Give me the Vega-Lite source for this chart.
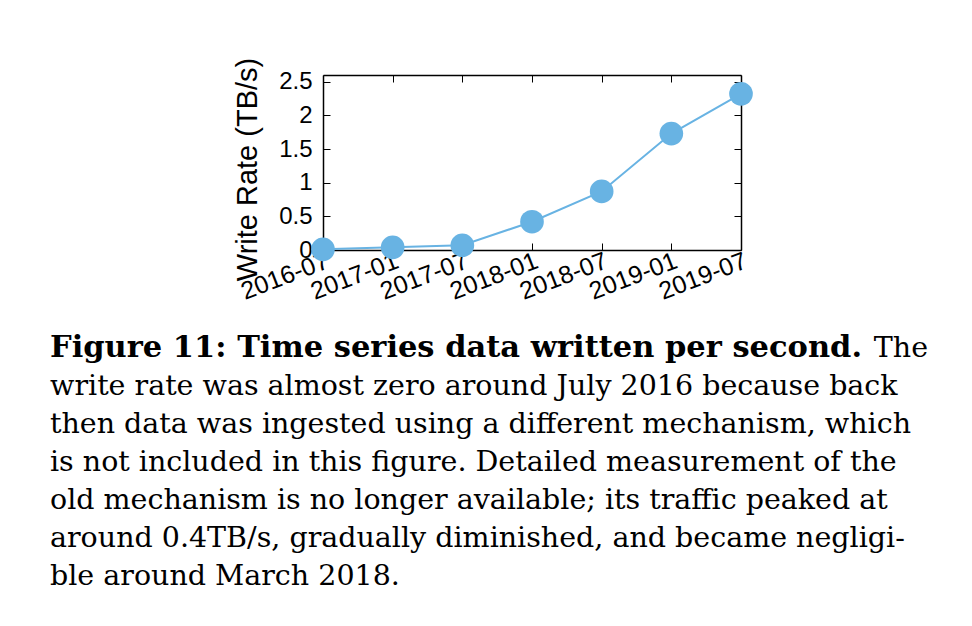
{
  "$schema": "https://vega.github.io/schema/vega-lite/v6.json",
  "background": "white",
  "padding": {"top": 57, "left": 50, "right": 20, "bottom": 20},
  "width": 418,
  "height": 175,
  "config": {
    "view": {"stroke": null},
    "axis": {
      "domainColor": "black",
      "domainWidth": 1.5,
      "tickColor": "black",
      "tickWidth": 1,
      "tickSize": -7,
      "labelFont": "Liberation Sans",
      "labelFontSize": 24,
      "labelColor": "black",
      "titleFont": "Liberation Sans",
      "titleFontSize": 29,
      "titleFontWeight": "normal",
      "titleColor": "black",
      "grid": false,
      "zindex": 1
    }
  },
  "layer": [
    {
      "data": {
        "values": [
          {"month": "2016-07", "rate": 0.01},
          {"month": "2017-01", "rate": 0.04},
          {"month": "2017-07", "rate": 0.07},
          {"month": "2018-01", "rate": 0.42},
          {"month": "2018-07", "rate": 0.87},
          {"month": "2019-01", "rate": 1.73},
          {"month": "2019-07", "rate": 2.32}
        ]
      },
      "layer": [
        {
          "mark": {"type": "line", "color": "#68b3e3", "strokeWidth": 2},
          "encoding": {
            "x": {"field": "month", "type": "ordinal", "sort": null, "scale": {"type": "point", "padding": 0},
                  "axis": {"orient": "bottom", "title": null, "labelAngle": -21, "labelAlign": "right", "labelBaseline": "top", "labelPadding": 5, "labelFontSize": 25}},
            "y": {"field": "rate", "type": "quantitative", "scale": {"domain": [0, 2.5]},
                  "axis": {"orient": "left", "title": "Write Rate (TB/s)", "values": [0, 0.5, 1, 1.5, 2, 2.5], "format": "~g", "labelPadding": 18, "titlePadding": 16, "titleY": 94}}
          }
        },
        {
          "mark": {"type": "point", "opacity": 0},
          "encoding": {
            "x": {"field": "month", "type": "ordinal", "sort": null, "axis": {"orient": "top", "title": null, "labels": false}},
            "y": {"field": "rate", "type": "quantitative", "axis": {"orient": "right", "title": null, "labels": false, "values": [0, 0.5, 1, 1.5, 2, 2.5]}}
          }
        },
        {
          "mark": {"type": "circle", "color": "#68b3e3", "size": 560, "opacity": 1},
          "encoding": {
            "x": {"field": "month", "type": "ordinal", "sort": null, "axis": null},
            "y": {"field": "rate", "type": "quantitative", "axis": null}
          }
        }
      ],
      "resolve": {"axis": {"x": "independent", "y": "independent"}}
    },
    {
      "data": {
        "values": [
          {"line": 0, "part": "head", "text": "Figure 11: Time series data written per second."},
          {"line": 0, "part": "end", "text": "The"},
          {"line": 1, "part": "body", "text": "write rate was almost zero around July 2016 because back"},
          {"line": 2, "part": "body", "text": "then data was ingested using a different mechanism, which"},
          {"line": 3, "part": "body", "text": "is not included in this figure. Detailed measurement of the"},
          {"line": 4, "part": "body", "text": "old mechanism is no longer available; its traffic peaked at"},
          {"line": 5, "part": "body", "text": "around 0.4TB/s, gradually diminished, and became negligi-"},
          {"line": 6, "part": "body", "text": "ble around March 2018."}
        ]
      },
      "layer": [
        {
          "transform": [{"filter": "datum.part === 'head'"}],
          "mark": {"type": "text", "align": "left", "baseline": "alphabetic", "font": "DejaVu Serif", "fontSize": 30.5, "fontWeight": "bold", "color": "black"},
          "encoding": {
            "x": {"datum": 0, "type": "quantitative", "scale": {"domain": [0, 1], "range": [-273, 605]}, "axis": null},
            "y": {"field": "line", "type": "quantitative", "scale": {"domain": [0, 6], "range": [282, 510]}, "axis": null},
            "text": {"field": "text"}
          }
        },
        {
          "transform": [{"filter": "datum.part === 'end'"}],
          "mark": {"type": "text", "align": "right", "baseline": "alphabetic", "font": "DejaVu Serif", "fontSize": 28.5, "color": "black"},
          "encoding": {
            "x": {"datum": 1, "type": "quantitative"},
            "y": {"field": "line", "type": "quantitative"},
            "text": {"field": "text"}
          }
        },
        {
          "transform": [{"filter": "datum.part === 'body'"}],
          "mark": {"type": "text", "align": "left", "baseline": "alphabetic", "font": "DejaVu Serif", "fontSize": 28.5, "color": "black"},
          "encoding": {
            "x": {"datum": 0, "type": "quantitative"},
            "y": {"field": "line", "type": "quantitative"},
            "text": {"field": "text"}
          }
        }
      ]
    }
  ],
  "resolve": {"scale": {"x": "independent", "y": "independent"}}
}
